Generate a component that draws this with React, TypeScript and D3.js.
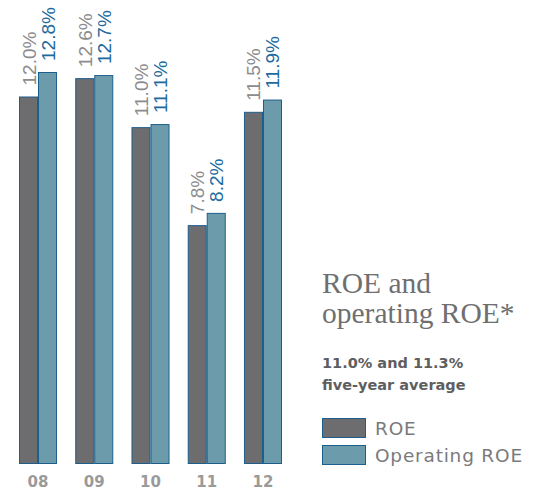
import React from "react";
import * as d3 from "d3";

// fiscal years on the x axis
const YEARS = ["08", "09", "10", "11", "12"];
// return on equity, %
const ROE = [12.0, 12.6, 11.0, 7.8, 11.5];
// operating return on equity, %
const OPERATING_ROE = [12.8, 12.7, 11.1, 8.2, 11.9];
const SERIES = ["ROE", "Operating ROE"];

const TITLE = ["ROE and", "operating ROE*"];
const SUBTITLE = ["11.0% and 11.3%", "five-year average"];

const W = 544,
  H = 491;
const BASE = 464;

const colors = {
  roe: "#6d6c6e",
  op: "#6c9cab",
  stroke: "#1d5f8c",
  roeText: "#8c8c8e",
  opText: "#1d6a9e",
  axis: "#9a9a9a",
  title: "#6f6f71",
  sub: "#5e5e60",
  legend: "#7a7a7c"
};

const sans = "'DejaVu Sans', sans-serif";

export default function App() {
  const x = d3
    .scaleBand()
    .domain(YEARS)
    .range([19, 282])
    .paddingInner(0.324)
    .paddingOuter(0);

  const inner = d3
    .scaleBand()
    .domain(SERIES)
    .range([0, x.bandwidth()]);

  const y = d3.scaleLinear().domain([0, 12.8]).range([BASE, 72]);

  const rows = YEARS.map((yr, i) => ({
    yr,
    values: [
      { key: SERIES[0], v: ROE[i], fill: colors.roe, text: colors.roeText },
      { key: SERIES[1], v: OPERATING_ROE[i], fill: colors.op, text: colors.opText }
    ]
  }));

  return (
    <svg
      width={W}
      height={H}
      style={{ position: "absolute", left: 0, top: 0, background: "#fff" }}
    >
      {rows.map(r => (
        <g key={r.yr} transform={`translate(${x(r.yr)},0)`}>
          {r.values.map(d => {
            const bx = inner(d.key) as number;
            const top = y(d.v);
            const cx = bx + inner.bandwidth() / 2;
            return (
              <g key={d.key}>
                <rect
                  x={bx + 0.5}
                  y={top + 0.5}
                  width={inner.bandwidth() - 1}
                  height={BASE - top - 1}
                  fill={d.fill}
                  stroke={colors.stroke}
                  strokeWidth={1}
                />
                <text
                  transform={`translate(${cx + 7},${top - 11}) rotate(-90)`}
                  fontFamily="'Liberation Sans', sans-serif"
                  fontSize={19}
                  fill={d.text}
                >
                  {d.v.toFixed(1)}%
                </text>
              </g>
            );
          })}
          <text
            x={x.bandwidth() / 2}
            y={487}
            textAnchor="middle"
            fontFamily={sans}
            fontWeight="bold"
            fontSize={15}
            fill={colors.axis}
          >
            {r.yr}
          </text>
        </g>
      ))}

      {/* title block */}
      {TITLE.map((t, i) => (
        <text
          key={t}
          x={322}
          y={293 + i * 30}
          fontFamily="'Liberation Serif', serif"
          fontSize={29.5}
          fill={colors.title}
        >
          {t}
        </text>
      ))}
      {SUBTITLE.map((t, i) => (
        <text
          key={t}
          x={322}
          y={368 + i * 22}
          fontFamily={sans}
          fontWeight="bold"
          fontSize={14.5}
          fill={colors.sub}
        >
          {t}
        </text>
      ))}

      {/* legend */}
      {SERIES.map((s, i) => (
        <g key={s} transform={`translate(322,${418 + i * 27})`}>
          <rect
            x={0.5}
            y={0.5}
            width={43}
            height={19}
            fill={i === 0 ? colors.roe : colors.op}
            stroke={colors.stroke}
          />
          <text
            x={53}
            y={16.5}
            fontFamily={sans}
            fontSize={18.5}
            letterSpacing={0.8}
            fill={colors.legend}
          >
            {s}
          </text>
        </g>
      ))}
    </svg>
  );
}
